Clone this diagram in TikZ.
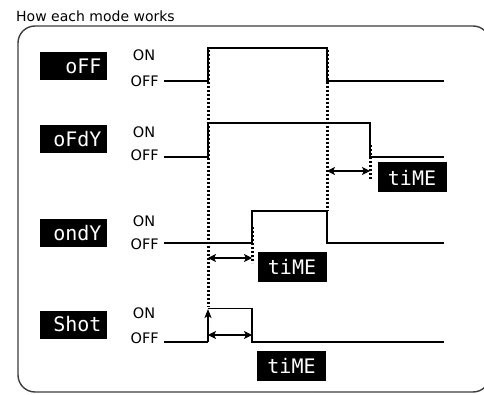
\documentclass[tikz,border=0pt]{standalone}
\usepackage{fontspec}
\setmainfont{DejaVu Sans}
\newfontfamily\segfont{DejaVu Sans Mono}
\usepackage{tikz}
\usetikzlibrary{arrows.meta,positioning}
\definecolor{framegray}{HTML}{3C3C3C}
\tikzset{
  lbl/.style={font=\fontsize{14.5}{17}\selectfont,inner sep=0pt},
  modebox/.style={fill=black,text=white,font=\segfont\fontsize{20}{20}\selectfont,
    minimum width=67pt,minimum height=28pt,inner sep=0pt,text width=56pt,align=right},
  timebox/.style={fill=black,text=white,font=\segfont\fontsize{20}{20}\selectfont,
    minimum width=69pt,minimum height=30pt,inner sep=0pt},
  sig/.style={line width=1.3pt,line join=miter},
  guide/.style={line width=2.4pt,dash pattern=on 2.2pt off 1.8pt},
  span/.style={line width=1.1pt,{Stealth[length=8pt,width=8pt,inset=2pt]}-{Stealth[length=8pt,width=8pt,inset=2pt]}}
}

\begin{document}
\begin{tikzpicture}[x=1pt,y=-1pt]
  \clip (0,0) rectangle (484,395);
  \node[lbl,font=\fontsize{14}{17}\selectfont,anchor=base west] (title) at (16,21.5) {How each mode works};
  \draw[framegray,line width=1.4pt,rounded corners=17pt] (18,26) rectangle (490,392);

  % mode displays
  \node[modebox] (mOff)  at (73.5,66)    {oFF};
  \node[modebox] (mOfdy) at (73.5,139)   {oFdY};
  \node[modebox] (mOndy) at (73.5,233)   {ondY};
  \node[modebox] (mShot) at (73.5,324.5) {Shot};

  % ON / OFF levels
  \foreach \n/\yon/\yoff in {1/55/81.5,2/132/155,3/221.5/244.5,4/313/338}{
    \node[lbl] (on\n) at (144,\yon) {ON};
    \node[lbl,anchor=east] (off\n) at (159,\yoff) {OFF};
  }

  % switching instants
  \coordinate (s1) at (208.5,50);  \coordinate (e1) at (327.5,50);
  \coordinate (d2) at (370.5,145); \coordinate (d2b) at (370.5,179);
  \coordinate (d3) at (252.5,227); \coordinate (d3b) at (252.5,263);
  \coordinate (s4) at (208,309);   \coordinate (e3) at (327.5,211);

  \draw[sig] (164,81) -- (208,81) -- (208,48) -- (327,48) -- (327,81) -- (444,81);
  \draw[sig] (164,157) -- (208,157) -- (208,123) -- (370,123) -- (370,157) -- (444,157);
  \draw[sig] (164,243) -- (252,243) -- (252,211) -- (327,211) -- (327,243) -- (444,243);
  \draw[sig] (164,342) -- (208,342);
  \draw[sig,-{Stealth[length=9pt,width=7pt,inset=2pt]}] (208,342) -- (s4);
  \draw[sig] (208,308.4) -- (252,308.4) -- (252,342) -- (444,342);

  \draw[guide] (s1) -- (208.5,307);
  \draw[guide] (e1) -- (e3);
  \draw[guide] (d2) -- (d2b);
  \draw[guide] (d3) -- (d3b);

  % delay spans
  \draw[span] (327,171) -- (370,171);
  \draw[span] (208,258) -- (252,258);
  \draw[span] (208,335) -- (252,335);

  \node[timebox] (time2) at (412,177.5) {tiME};
  \node[timebox] (time3) at (292,267)   {tiME};
  \node[timebox] (time4) at (291.5,365.5) {tiME};
\end{tikzpicture}
\end{document}
